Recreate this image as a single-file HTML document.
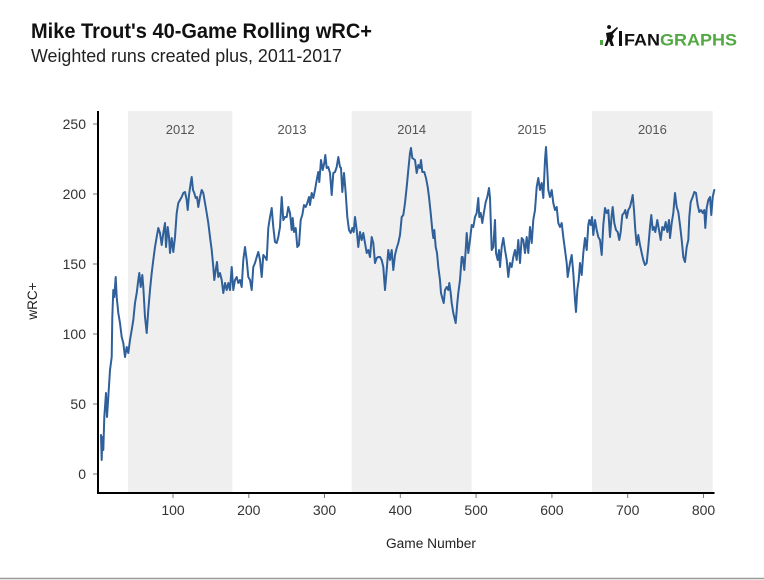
<!DOCTYPE html>
<html>
<head>
<meta charset="utf-8">
<style>
  html, body { margin: 0; padding: 0; background: #ffffff; }
  body { width: 764px; height: 580px; overflow: hidden; }
  svg { display: block; }
  text { font-family: "Liberation Sans", Arial, sans-serif; }
</style>
</head>
<body>
<svg width="764" height="580" viewBox="0 0 764 580" xmlns="http://www.w3.org/2000/svg">
  <rect x="0" y="0" width="764" height="580" fill="#ffffff"/>

  <!-- Title -->
  <text x="31" y="38" font-size="21.5" font-weight="bold" fill="#111" textLength="341" lengthAdjust="spacingAndGlyphs">Mike Trout's 40-Game Rolling wRC+</text>
  <text x="31" y="62" font-size="18.5" fill="#222" textLength="311" lengthAdjust="spacingAndGlyphs">Weighted runs created plus, 2011-2017</text>

  <!-- Logo -->
  <g>
    <rect x="600" y="40" width="3" height="5" fill="#52a843"/>
    <path d="M609,29 a2,2 0 1,1 0.1,0 Z" fill="#111"/>
    <path d="M606,33 L611,32 L614,36 L612,40 L614,46 L611,46 L609,41 L607,46 L604.5,46 L607,39 Z" fill="#111"/>
    <path d="M610,33 L617,27 L618,28 L612,35 Z" fill="#111"/>
    <rect x="619" y="31" width="3" height="15" fill="#111"/>
    <text x="624" y="45.5" font-size="17" font-weight="bold" fill="#111" textLength="113" lengthAdjust="spacingAndGlyphs">FAN<tspan fill="#52a843">GRAPHS</tspan></text>
  </g>

  <!-- Shaded seasons -->
  <rect x="128" y="111" width="104.3" height="382" fill="#efefef"/>
  <rect x="351.7" y="111" width="120" height="382" fill="#efefef"/>
  <rect x="592" y="111" width="120.7" height="382" fill="#efefef"/>

  <!-- Year labels -->
  <g font-size="13" fill="#555" text-anchor="middle">
    <text x="180.2" y="134">2012</text>
    <text x="292" y="134">2013</text>
    <text x="411.7" y="134">2014</text>
    <text x="531.9" y="134">2015</text>
    <text x="652.4" y="134">2016</text>
  </g>

  <!-- Y ticks -->
  <g stroke="#777" stroke-width="1">
    <line x1="93" y1="124" x2="97" y2="124"/>
    <line x1="93" y1="194" x2="97" y2="194"/>
    <line x1="93" y1="264" x2="97" y2="264"/>
    <line x1="93" y1="334" x2="97" y2="334"/>
    <line x1="93" y1="404" x2="97" y2="404"/>
    <line x1="93" y1="474" x2="97" y2="474"/>
  </g>
  <g font-size="14" fill="#333" text-anchor="end">
    <text x="86" y="129">250</text>
    <text x="86" y="199">200</text>
    <text x="86" y="269">150</text>
    <text x="86" y="339">100</text>
    <text x="86" y="409">50</text>
    <text x="86" y="479">0</text>
  </g>

  <!-- X ticks -->
  <g stroke="#777" stroke-width="1">
    <line x1="173" y1="494" x2="173" y2="498"/>
    <line x1="248.8" y1="494" x2="248.8" y2="498"/>
    <line x1="324.5" y1="494" x2="324.5" y2="498"/>
    <line x1="400.3" y1="494" x2="400.3" y2="498"/>
    <line x1="476.1" y1="494" x2="476.1" y2="498"/>
    <line x1="551.9" y1="494" x2="551.9" y2="498"/>
    <line x1="627.7" y1="494" x2="627.7" y2="498"/>
    <line x1="703.5" y1="494" x2="703.5" y2="498"/>
  </g>
  <g font-size="14" fill="#333" text-anchor="middle">
    <text x="173" y="515">100</text>
    <text x="248.8" y="515">200</text>
    <text x="324.5" y="515">300</text>
    <text x="400.3" y="515">400</text>
    <text x="476.1" y="515">500</text>
    <text x="551.9" y="515">600</text>
    <text x="627.7" y="515">700</text>
    <text x="703.5" y="515">800</text>
  </g>

  <!-- Axis titles -->
  <text x="431" y="548" font-size="13.5" fill="#222" text-anchor="middle" textLength="90" lengthAdjust="spacingAndGlyphs">Game Number</text>
  <text transform="translate(37,301) rotate(-90)" x="0" y="0" font-size="13.5" fill="#222" text-anchor="middle">wRC+</text>

  <!-- Data line -->
  <polyline fill="none" stroke="#30609a" stroke-width="2" stroke-linejoin="round" stroke-linecap="round" points="
101,435 101.7,460 102.3,437 103.3,450 104.3,417 106,393 107,417 108.3,397 110,370 111.7,357 112.3,317 113.3,290 114.3,297 115.7,277 116.7,297 118.3,313 120,323 121.7,337 123.3,343 125,357 126.7,347 128.3,353 130,340 131.7,330 133.3,320 135,303 136.7,293 138.3,280 139.3,273 140.7,287 142.3,275 143.3,287 145,317 146.7,333 148.3,310 150,290 151.7,273 153.3,260 155,247 156.7,237 158.3,228 160,233 161.7,245 163.3,233 165,223 166,247 167.7,227 169,237 170,253 171.7,238 173.3,252 175,237 176.7,213 178.3,203 180,200 181.7,197 183.3,193 185,192 186.7,200 187.7,210 189,195 190.7,183 191.7,177 193,190 194.3,193 195.7,198 197,197 198.3,207 200,197 201.7,190 203.3,193 205,203 206.7,213 208.3,223 210,237 211.7,250 213.3,267 214.3,280 215.7,270 217,262 218.3,277 220,273 221.7,280 223.3,293 225,283 226.7,290 228.3,283 230,290 231.7,267 233.3,290 235,280 236.7,277 238.3,283 240,280 241.7,287 243.3,260 245,247 246.7,260 248.3,277 250,280 251.7,290 253.3,267
255,263 256.7,257 258.3,252 260,260 261.7,277 263.3,255 265,257 266.7,260 268.3,228 270,217 271.7,208 273.3,227 275,242 276.7,243 278.3,237 280,227 281.7,197 283.3,220 285,217 286.7,217 288.3,207 290,213 291.7,230 292.7,218 294,232 295.7,228 297.3,247 299,245 300.7,220 302.3,215 304,205 305.7,207 307.3,203 309,197 310,205 311.7,193 313.3,198 315,190 316.7,180 318.3,172 319.3,182 321,160 322.7,170 324.3,163 325.3,155 326.7,168 328.3,167 330,173 331.7,195 333.3,173 335,172 336.7,167 338.3,157 340,167 341,168 342.3,192 344,173 345.7,193 347.3,217 349,230 350.7,233 352.3,228 353.7,232 355,217 356.7,230 358.3,247 360,232 361.7,240 363.3,233 365,243 366.7,253 368.3,250 370,257 371.7,237 373.3,243 375,263 376.7,258 378.3,257 380,257 381.7,260 383.3,267 385,290 386.7,270 388.3,250 390,260 391.7,250 393.3,270 395,255 396.7,248 398.3,243 400,235 401.7,217 403.3,215 405,203 406.7,187 408.3,170 410,153 411,148 412.3,158
415,160 416.7,173 418.3,165 420,168 421,160 422.3,172 424.3,172 426,178 427.7,187 429,197 430.7,213 432.3,230 433.3,238 434.3,230 435.7,247 437,253 438.3,267 440,280 441,293 442.3,298 443.7,303 445,290 446.7,287 448.3,290 449.3,283 450.7,293 451.7,303 453.3,313 455.7,323 457.3,303 458.3,293 460,280 461.7,257 462.7,257 464.3,270 465.7,250 466.7,233 468.3,253 470,240 471.7,225 473.3,227 475,217 476.7,213 478.3,198 479.3,217 480.7,213 482.3,223 484,212 485.7,202 487.3,197 489,188 490,198 491.7,250 493.3,247 495,220 496,253 497.7,260 499,250 500,267 501.7,247 503.3,238 505,250 506.7,260 508.3,277 510,263 511.7,267 513.3,257 515,250 516.7,260 518.3,240 520,263 521.7,238 523.3,240 525,253 526.7,237 528.3,253 530,227 531.7,243 533.3,220 535,210 536.7,187 538.3,178 540,190 541.7,183 543.3,198 545,160 546,147 547.3,170 548.3,190 550,197 551.7,190 553.3,203 555,210 556.7,207 558.3,223 560,227 561.7,223 563.3,237 565,250 566.7,263 567.7,277
570,263 571.7,255 573.3,273 575,300 576,312 577.3,290 578.7,280 580,263 581.7,275 583.3,253 585,238 586.7,250 588.3,225 589.3,220 590.7,225 592,217 593.3,235 595,220 596.7,230 598.3,237 600,240 601.7,255 603.3,225 605,208 606.7,213 608.3,210 610,237 611.7,215 612.7,207 614.3,223 616,230 617.7,232 619.3,240 620.7,232 622.3,215 624,213 625.3,210 626.7,218 628.3,210 630,207 631.7,200 632.7,195 634,210 635.3,230 636.7,245 638.3,235 640,245 641.7,253 643.3,260 645,265 646.7,263 648.3,247 650,227 651.3,215 652.7,230 654,227 655.3,232 657.3,220 659,230 660.7,240 662.3,227 664,230 665.7,222 667.3,232 669,220 670,238 671.7,223 673.3,213 675,193 676.7,207 678.3,212 680,225 681.7,240 683.3,257 685,262 686.7,247 688.3,240 689.3,217 690.7,202 692.7,197 694.3,192 696,193 697.7,205 699.3,212 701,210 702.7,213 704.3,210 705.3,228 706.7,208 708.3,200 710,197 711.3,215 712.7,197 714.3,190"/>

  <!-- Axes -->
  <line x1="98" y1="111" x2="98" y2="494" stroke="#000" stroke-width="2"/>
  <line x1="97" y1="493" x2="714.5" y2="493" stroke="#000" stroke-width="2"/>

  <!-- Bottom rule -->
  <line x1="0" y1="578.5" x2="764" y2="578.5" stroke="#999" stroke-width="1.5"/>
</svg>
</body>
</html>
